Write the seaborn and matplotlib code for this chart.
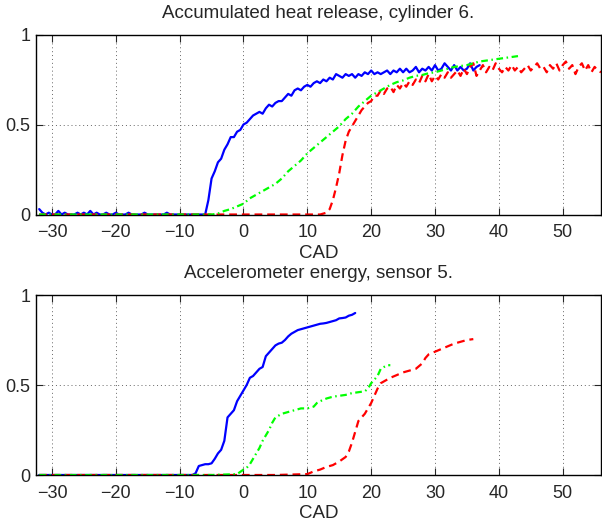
import numpy as np
import pandas as pd
import matplotlib
matplotlib.use("Agg")
import matplotlib.pyplot as plt
import seaborn as sns

# =============================
# DATA
# =============================
XTICKS = [-30, -20, -10, 0, 10, 20, 30, 40, 50]
YTICKS = [0, 0.5, 1]
YTICKLABELS = ["0", "0.5", "1"]

# --- top: accumulated heat release, cylinder 6 ---
heat_blue_cad = np.arange(-32, 37.5, 0.5)
heat_blue = [
    0.03, 0.01, 0.0, 0.01, 0.0, 0.0, 0.02, 0.0, 0.01, 0.0, 0.0, 0.0, 0.01,
    0.0, 0.01, 0.0, 0.02, 0.0, 0.01, 0.0, 0.0, 0.01, 0.0, 0.0, 0.01, 0.0,
    0.0, 0.0, 0.01, 0.0, 0.0, 0.0, 0.0, 0.01, 0.0, 0.0, 0.0, 0.0, 0.0, 0.0,
    0.01, 0.0, 0.0, 0.0, 0.0, 0.0, 0.0, 0.0, 0.0, 0.0, 0.0, 0.0,
    0.0, 0.08, 0.20, 0.24, 0.29, 0.31, 0.36, 0.39, 0.43, 0.43, 0.46, 0.47,
    0.50, 0.51, 0.53, 0.55, 0.56, 0.57, 0.56, 0.59, 0.61, 0.60, 0.62, 0.63,
    0.63, 0.65, 0.67, 0.66, 0.69, 0.70, 0.69, 0.71, 0.72, 0.71, 0.73, 0.74,
    0.73, 0.75, 0.74, 0.76, 0.75, 0.78, 0.77, 0.76, 0.78, 0.77, 0.78, 0.76,
    0.78, 0.77, 0.79, 0.78, 0.80, 0.78, 0.79, 0.78, 0.79, 0.80, 0.78, 0.80,
    0.79, 0.81, 0.79, 0.81, 0.79, 0.80, 0.82, 0.79, 0.81, 0.80, 0.82, 0.80,
    0.83, 0.80, 0.81, 0.84, 0.82, 0.80, 0.83, 0.80, 0.82, 0.80, 0.81, 0.84,
    0.80, 0.82, 0.83,
]

heat_green_cad = np.arange(-32, 44, 1.0)
heat_green = [
    0.0, 0.0, 0.0, 0.0, 0.0, 0.0, 0.0, 0.0, 0.0, 0.0, 0.0, 0.0, 0.0, 0.0,
    0.0, 0.0, 0.0, 0.0, 0.0, 0.0, 0.0, 0.0, 0.0, 0.0, 0.0, 0.0, 0.0,
    0.0, 0.005, 0.02, 0.03, 0.045, 0.06, 0.09, 0.11, 0.13, 0.15, 0.17,
    0.20, 0.24, 0.27, 0.30, 0.34, 0.37, 0.40, 0.43, 0.46, 0.49, 0.53, 0.56,
    0.60, 0.63, 0.66, 0.68, 0.70, 0.72, 0.735, 0.745, 0.76, 0.77, 0.775,
    0.785, 0.79, 0.80, 0.81, 0.82, 0.825, 0.83, 0.84, 0.85, 0.855, 0.86,
    0.865, 0.87, 0.875, 0.88,
]

heat_red_cad = np.concatenate([np.arange(-32, 12, 1.0), np.arange(12, 56.5, 0.5)])
heat_red = [
    0.0, 0.0, 0.0, 0.0, 0.0, 0.0, 0.0, 0.0, 0.0, 0.0, 0.0, 0.0, 0.0, 0.0,
    0.0, 0.0, 0.0, 0.0, 0.0, 0.0, 0.0, 0.0, 0.0, 0.0, 0.0, 0.0, 0.0, 0.0,
    0.0, 0.0, 0.0, 0.0, 0.0, 0.0, 0.0, 0.0, 0.0, 0.0, 0.0, 0.0, 0.0, 0.0,
    0.0, 0.0,
    0.0, 0.005, 0.01, 0.03, 0.08, 0.15, 0.23, 0.33, 0.41, 0.46, 0.49, 0.52,
    0.55, 0.58, 0.60, 0.62, 0.63, 0.66, 0.66, 0.69, 0.67, 0.70, 0.71, 0.68,
    0.72, 0.70, 0.73, 0.71, 0.74, 0.72, 0.75, 0.73, 0.77, 0.74, 0.78, 0.74,
    0.77, 0.75, 0.78, 0.76, 0.79, 0.76, 0.78, 0.80, 0.77, 0.81, 0.78, 0.82,
    0.84, 0.77, 0.80, 0.83, 0.79, 0.82, 0.80, 0.84, 0.81, 0.79, 0.82, 0.80,
    0.83, 0.80, 0.82, 0.79, 0.81, 0.83, 0.80, 0.82, 0.84, 0.81, 0.82, 0.79,
    0.83, 0.81, 0.84, 0.80, 0.83, 0.85, 0.81, 0.83, 0.78, 0.82, 0.84, 0.80,
    0.83, 0.79, 0.82, 0.80, 0.79,
]

# --- bottom: accelerometer energy, sensor 5 ---
acc_blue_cad = np.concatenate([np.arange(-32, -8, 1.0), np.arange(-8, 18, 0.5)])
acc_blue = [
    0.0, 0.0, 0.0, 0.0, 0.0, 0.0, 0.0, 0.0, 0.0, 0.0, 0.0, 0.0, 0.0, 0.0,
    0.0, 0.0, 0.0, 0.0, 0.0, 0.0, 0.0, 0.0, 0.0, 0.0,
    0.0, 0.01, 0.05, 0.055, 0.06, 0.06, 0.065, 0.09, 0.12, 0.14, 0.19, 0.32,
    0.34, 0.36, 0.41, 0.44, 0.47, 0.50, 0.54, 0.55, 0.57, 0.59, 0.60, 0.66,
    0.68, 0.70, 0.72, 0.73, 0.735, 0.75, 0.77, 0.785, 0.795, 0.805, 0.81,
    0.815, 0.82, 0.825, 0.83, 0.835, 0.84, 0.842, 0.845, 0.85, 0.855, 0.86,
    0.87, 0.872, 0.875, 0.885, 0.89, 0.90,
]

acc_green_cad = [-32, -25, -20, -15, -10, -5, -1, 0, 0.5, 1, 1.5, 2, 2.5, 3,
                 3.5, 4, 4.5, 5, 5.5, 6, 7, 8, 9, 10, 11, 11.5, 12, 13, 14,
                 15, 16, 17, 18, 19, 19.5, 20, 20.5, 21, 21.5, 22, 22.5, 23]
acc_green = [0.0, 0.0, 0.0, 0.0, 0.0, 0.0, 0.005, 0.03, 0.04, 0.06, 0.09,
             0.12, 0.15, 0.19, 0.22, 0.25, 0.29, 0.32, 0.33, 0.34, 0.35,
             0.36, 0.37, 0.37, 0.38, 0.40, 0.41, 0.425, 0.435, 0.44, 0.445,
             0.455, 0.46, 0.465, 0.48, 0.51, 0.53, 0.55, 0.59, 0.60, 0.61,
             0.61]

acc_red_cad = [-32, -25, -20, -15, -10, -5, 0, 5, 10, 11, 12, 13, 14, 15, 16,
               16.5, 17, 17.5, 18, 19, 19.5, 20, 20.5, 21, 21.5, 22, 23, 24,
               25, 26, 27, 28, 28.5, 29, 30, 31, 32, 33, 34, 35, 36]
acc_red = [0.0, 0.0, 0.0, 0.0, 0.0, 0.0, 0.0, 0.0, 0.005, 0.02, 0.03, 0.045,
           0.055, 0.075, 0.10, 0.13, 0.18, 0.24, 0.30, 0.34, 0.37, 0.40,
           0.44, 0.48, 0.51, 0.52, 0.54, 0.555, 0.57, 0.58, 0.59, 0.62, 0.65,
           0.67, 0.685, 0.70, 0.715, 0.73, 0.74, 0.75, 0.755]

# =============================
# STYLE
# =============================
sns.set_style("ticks")
plt.rcParams["font.family"] = ["Liberation Sans", "DejaVu Sans"]
plt.rcParams["font.size"] = 13
plt.rcParams["axes.linewidth"] = 1.0

LW = 1.6
STYLES = {
    "blue": dict(color="#0000ff", dashes=(None, None)),
    "red": dict(color="#ff0000", dashes=(3.5, 2.2)),
    "green": dict(color="#00ff00", dashes=(3.0, 1.6, 0.7, 1.6)),
}


def draw_panel(ax, series, title):
    for name, cad, vals in series:
        assert len(cad) == len(vals), name
        df = pd.DataFrame({"CAD": cad, "val": vals})
        st = STYLES[name]
        line = sns.lineplot(data=df, x="CAD", y="val", ax=ax, color=st["color"],
                            lw=LW, sort=False, estimator=None).lines[-1]
        if st["dashes"][0] is not None:
            line.set_dashes(st["dashes"])
    ax.set_xlim(-32.5, 56)
    ax.set_ylim(0, 1)
    ax.set_xticks(XTICKS)
    ax.set_yticks(YTICKS)
    ax.set_yticklabels(YTICKLABELS)
    ax.grid(True, linestyle=(0, (1, 3)), color="0.4", linewidth=0.7)
    ax.tick_params(direction="in", length=5, top=True, right=True,
                   labelsize=13, pad=4)
    ax.tick_params(axis="x", pad=7)
    for sp in ax.spines.values():
        sp.set_visible(True)
        sp.set_color("black")
    ax.set_xlabel("CAD", fontsize=13.5, labelpad=2.5)
    ax.set_ylabel("")
    ax.set_title(title, fontsize=13.5, pad=12)


fig = plt.figure(figsize=(6.02, 5.21), dpi=100)
ax1 = fig.add_axes([36 / 602, 1 - 214.5 / 521, 565 / 602, 180 / 521])
ax2 = fig.add_axes([36 / 602, 1 - 475 / 521, 565 / 602, 180 / 521])

draw_panel(ax1, [("blue", heat_blue_cad, heat_blue),
                 ("red", heat_red_cad, heat_red),
                 ("green", heat_green_cad, heat_green)],
           "Accumulated heat release, cylinder 6.")
draw_panel(ax2, [("blue", acc_blue_cad, acc_blue),
                 ("red", acc_red_cad, acc_red),
                 ("green", acc_green_cad, acc_green)],
           "Accelerometer energy, sensor 5.")

fig.savefig("out.png", dpi=100)
